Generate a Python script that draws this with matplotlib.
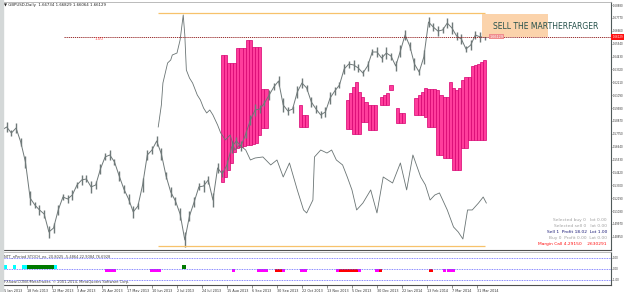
import numpy as np
import matplotlib
matplotlib.use("Agg")
import matplotlib.pyplot as plt
import matplotlib.transforms as mtransforms
from matplotlib.patches import Rectangle

# GBPUSD daily, one value every 3 bars (bar 0 = 25 Jan 2013)
closes = [1.5808, 1.5834, 1.5782, 1.5825, 1.5704, 1.5532, 1.5220, 1.5160, 1.5117, 1.5082,
          1.4927, 1.4961, 1.5117, 1.5229, 1.5212, 1.5246, 1.5333, 1.5376, 1.5385, 1.5316,
          1.5333, 1.5471, 1.5575, 1.5592, 1.5532, 1.5411, 1.5298, 1.5212, 1.5100, 1.5151,
          1.5333, 1.5592, 1.5635, 1.5713, 1.5601, 1.5411, 1.5272, 1.5195, 1.5082, 1.4858,
          1.5065, 1.5186, 1.5316, 1.5324, 1.5376, 1.5203, 1.5480, 1.5428, 1.5506, 1.5661,
          1.5713, 1.5670, 1.5773, 1.5894, 1.5981, 1.5989, 1.6041, 1.6110, 1.6180, 1.6231,
          1.6024, 1.5972, 1.5989, 1.6136, 1.6214, 1.6171, 1.6050, 1.5989, 1.5938, 1.5964,
          1.6084, 1.6145, 1.6197, 1.6335, 1.6378, 1.6370, 1.6344, 1.6300, 1.6361, 1.6482,
          1.6482, 1.6430, 1.6473, 1.6447, 1.6361, 1.6491, 1.6629, 1.6534, 1.6378, 1.6309,
          1.6439, 1.6741, 1.6698, 1.6663, 1.6672, 1.6732, 1.6689, 1.6620, 1.6594, 1.6508,
          1.6542, 1.6629, 1.6612, 1.6613]
bar_span = [0.006, 0.008, 0.005, 0.009, 0.007, 0.010, 0.012, 0.006, 0.008, 0.007,
            0.011, 0.009, 0.008, 0.006, 0.007, 0.009, 0.005, 0.008, 0.006, 0.010,
            0.007, 0.009, 0.006, 0.008, 0.005, 0.009, 0.007, 0.008, 0.010, 0.006,
            0.012, 0.009, 0.007, 0.008, 0.010, 0.006, 0.009, 0.007, 0.011, 0.013,
            0.009, 0.008, 0.006, 0.010, 0.007, 0.012, 0.009, 0.006, 0.008, 0.010,
            0.007, 0.009, 0.006, 0.008, 0.011, 0.007, 0.005, 0.009, 0.006, 0.008,
            0.012, 0.007, 0.006, 0.010, 0.008, 0.005, 0.009, 0.007, 0.006, 0.008,
            0.010, 0.007, 0.005, 0.009, 0.006, 0.008, 0.007, 0.005, 0.009, 0.006,
            0.008, 0.007, 0.010, 0.006, 0.009, 0.011, 0.008, 0.007, 0.010, 0.006,
            0.012, 0.008, 0.007, 0.009, 0.006, 0.008, 0.010, 0.007, 0.009, 0.006,
            0.008, 0.007, 0.009, 0.006]
close_idx = np.arange(0, 310, 3)

# overlay line
overlay_idx = [100, 102, 103, 106, 108, 109, 112, 114, 116, 117,
               118, 120, 122, 125, 127, 129, 131, 133, 135, 138,
               140, 143, 146, 149, 152, 156, 159, 162, 167, 172,
               176, 180, 184, 189, 193, 195, 199, 200, 204, 208,
               211, 214, 218, 221, 224, 227, 231, 236, 240, 244,
               247, 250, 255, 259, 263, 268, 271, 274, 277, 280,
               285, 289, 292, 295, 298, 301, 305, 308, 310]
overlay_px = [1.5834, 1.6024, 1.6214, 1.6387, 1.6413, 1.6456, 1.6473, 1.6586, 1.6802, 1.6629,
              1.6326, 1.6257, 1.6214, 1.6110, 1.6067, 1.5998, 1.5955, 1.5981, 1.5938, 1.5851,
              1.5782, 1.5722, 1.5765, 1.5635, 1.5678, 1.5635, 1.5549, 1.5566, 1.5575, 1.5506,
              1.5549, 1.5402, 1.5523, 1.5290, 1.5117, 1.5091, 1.5203, 1.5575, 1.5635, 1.5609,
              1.5635, 1.5549, 1.5506, 1.5402, 1.5290, 1.5117, 1.5177, 1.5290, 1.5091, 1.5402,
              1.5376, 1.5350, 1.5523, 1.5290, 1.5592, 1.5402, 1.5333, 1.5203, 1.5246, 1.5264,
              1.5117, 1.4970, 1.4927, 1.4866, 1.5117, 1.5117, 1.5177, 1.5229, 1.5177]

# pink histogram in main window
pink_idx = [141, 143, 145, 147, 149, 151, 153, 155, 157, 159, 161, 163, 165, 167, 169,
            191, 193, 195,
            221, 223, 225, 227, 229, 231, 233, 235, 237, 239,
            243, 245, 247, 249,
            253, 255, 257,
            265, 267, 269, 271, 273, 275, 277, 279, 281, 283, 285, 287,
            289, 291, 293, 295, 297, 299, 301, 303, 305, 307, 309]
pink_top = [1.6456, 1.6456, 1.6387, 1.6387, 1.6387, 1.6516, 1.6516, 1.6516, 1.6586, 1.6586,
            1.6525, 1.6525, 1.6525, 1.6162, 1.6162,
            1.6024, 1.5938, 1.5938,
            1.6067, 1.6128, 1.6180, 1.6223, 1.6136, 1.6093, 1.6050, 1.6024, 1.6024, 1.6024,
            1.6093, 1.6110, 1.6128, 1.6197,
            1.5998, 1.5955, 1.5955,
            1.6084, 1.6110, 1.6136, 1.6171, 1.6162, 1.6162, 1.6162, 1.6154, 1.6110, 1.6093,
            1.6093, 1.6223, 1.6171, 1.6154, 1.6171, 1.6240, 1.6266, 1.6266, 1.6361, 1.6370,
            1.6378, 1.6396, 1.6413]
pink_bot = [1.5359, 1.5402, 1.5462, 1.5523, 1.5618, 1.5652, 1.5661, 1.5670, 1.5678, 1.5678,
            1.5687, 1.5696, 1.5765, 1.5825, 1.5825,
            1.5834, 1.5834, 1.5834,
            1.5817, 1.5817, 1.5773, 1.5773, 1.5773, 1.5877, 1.5877, 1.5808, 1.5808, 1.5808,
            1.6024, 1.6024, 1.6024, 1.6154,
            1.5868, 1.5868, 1.5868,
            1.5938, 1.5938, 1.5938, 1.5920, 1.5834, 1.5834, 1.5834, 1.5592, 1.5592, 1.5566,
            1.5566, 1.5566, 1.5462, 1.5462, 1.5462, 1.5652, 1.5652, 1.5722, 1.5722, 1.5722,
            1.5722, 1.5722, 1.5722]

current = 1.66129
top_level = 1.6819
bottom_level = 1.4806
price_ticks = [1.68880, 1.67770, 1.66660, 1.65540, 1.64430, 1.63320, 1.62210, 1.61090,
               1.59980, 1.58870, 1.57750, 1.56640, 1.55530, 1.54420, 1.53300, 1.52190,
               1.51080, 1.49970, 1.48850]

date_idx = [0, 16, 32, 48, 64, 80, 96, 112, 128, 144, 160, 176, 192, 208, 224, 240, 256, 272, 288, 304]
date_labels = ["25 Jan 2013", "18 Feb 2013", "12 Mar 2013", "3 Apr 2013", "25 Apr 2013",
               "17 May 2013", "10 Jun 2013", "2 Jul 2013", "24 Jul 2013", "15 Aug 2013",
               "6 Sep 2013", "30 Sep 2013", "22 Oct 2013", "13 Nov 2013", "5 Dec 2013",
               "30 Dec 2013", "22 Jan 2014", "13 Feb 2014", "7 Mar 2014", "31 Mar 2014"]

# stoch subwindow blocks
block_start = [0, 7, 13, 16, 33, 66, 95, 115, 147, 163, 175, 179, 191, 214, 216, 228, 239, 241, 273, 282, 285]
block_end = [3, 9, 16, 33, 35, 73, 102, 118, 149, 170, 179, 181, 195, 216, 228, 230, 241, 243, 276, 284, 290]
block_color = ["#00ffff", "#00ffff", "#00ffff", "#007a00", "#00ffff", "#ff00ff", "#ff00ff", "#007a00",
               "#ff00ff", "#ff00ff", "#ff0000", "#ff00ff", "#ff00ff", "#ff00ff", "#ff0000", "#ff00ff",
               "#ff00ff", "#ff0000", "#ff0000", "#ff00ff", "#ff00ff"]
block_side = [1, 1, 1, 1, 1, -1, -1, 1, -1, -1, -1, -1, -1, -1, -1, -1, -1, -1, -1, -1, -1]

info_lines = ["Selected buy 0   lot 0.00", "Selected sell 0   lot 0.00",
              "Sell 1  Profit 18.02  Lot 1.00", "Buy 0  Profit 0.00  Lot 0.00",
              "Margin Call 4.29150    2630291"]
info_colors = ["#a0a0a0", "#a0a0a0", "#1c1c78", "#a0a0a0", "#ff1010"]

W, H = 625, 292
fig = plt.figure(figsize=(6.25, 2.92), dpi=100)


def box(x0, y0, x1, y1):
    return [x0 / W, 1 - y1 / H, (x1 - x0) / W, (y1 - y0) / H]


ax = fig.add_axes(box(0, 2, 611, 250))
ax2 = fig.add_axes(box(0, 252, 611, 285))
for a in (ax, ax2):
    a.set_xlim(-1.28, 389.8)
    a.spines["left"].set_visible(False)
    a.spines["top"].set_color("#b0b0b0")
    a.spines["top"].set_linewidth(0.6)
    a.spines["right"].set_color("#505a5a")
    a.spines["right"].set_linewidth(0.8)
    a.spines["bottom"].set_color("#505050")
    a.spines["bottom"].set_linewidth(0.8)
    a.yaxis.tick_right()

ax.set_ylim(1.4771, 1.6914)

gray = "#6f7979"
c = np.array(closes)
s = np.array(bar_span)
ax.vlines(close_idx, c - s / 2, c + s / 2, color=gray, lw=1.0)
ax.plot(close_idx, c, color=gray, lw=0.7)
ax.plot(overlay_idx, overlay_px, color="#6a7474", lw=0.6)

pt = np.array(pink_top)
pb = np.array(pink_bot)
ax.bar(pink_idx, pt - pb, bottom=pb, width=2.0, color="#ff3d9c", edgecolor="#d6006f",
       linewidth=0.5, zorder=1)

ax.hlines(top_level, 100, 309, color="#f7c26b", lw=0.9)
ax.hlines(bottom_level, 100, 309, color="#f7c26b", lw=0.9)
ax.hlines(current, 40, 389.8, color="#8b1010", lw=0.6, linestyles=(0, (1.5, 1.0)))
ax.text(59, 1.6590, "1.00", fontsize=3, color="#ff5050", va="center")

ax.add_patch(Rectangle((307.2, 1.6612), 42.2, 0.0198, facecolor="#fbd3ab", edgecolor="none", zorder=4))
ax.text(314, 1.6700, "SELL THE MARTHERFARGER", fontsize=5.5, color="#24504a", va="center", zorder=5)
ax.text(312, current, "1.66129", fontsize=2.4, color="white", va="center", zorder=6,
        bbox=dict(boxstyle="square,pad=0.15", fc="#f08c8c", ec="none"))

ax.set_xticks([])
ax.set_yticks(price_ticks)
ax.set_yticklabels(["%.5f" % v for v in price_ticks])
ax.tick_params(axis="y", labelsize=1.9, length=1.0, width=0.4, pad=0.5, colors="#333333")
trans = mtransforms.blended_transform_factory(ax.transAxes, ax.transData)
ax.text(1.002, current, "1.66129", transform=trans, fontsize=1.9, color="white", va="center", ha="left",
        clip_on=False, zorder=10, bbox=dict(boxstyle="square,pad=0.3", fc="#ff1010", ec="none"))

# subwindow
ax2.set_ylim(-1.5, 1.5)
for lev in (1, 0, -1):
    ax2.axhline(lev, color="#6060ff", lw=0.6, ls=(0, (1, 1)))
for st, en, col, side in zip(block_start, block_end, block_color, block_side):
    ax2.bar(st, 0.36 * side, width=en - st, bottom=0, align="edge", color=col, linewidth=0)
ax2.set_yticks([1, 0, -1])
ax2.set_yticklabels(["1.00", "0.00", "-1.00"])
ax2.tick_params(axis="y", labelsize=1.9, length=1.0, width=0.4, pad=0.5, colors="#333333")
ax2.set_xticks(date_idx)
ax2.set_xticklabels(date_labels, ha="left")
ax2.tick_params(axis="x", labelsize=2.4, length=2, width=0.4, pad=1, colors="#333333")

fig.add_artist(Rectangle((0, 0), 3 / W, 1, transform=fig.transFigure, color="#d4d8d8"))
fig.text(4 / W, 1 - 5 / H, "\u25bc GBPUSD,Daily  1.66734 1.66829 1.66064 1.66129", fontsize=2.8,
         va="center", color="#222222")
fig.text(4 / W, 1 - 256 / H, "NTT_nPeriod STOCH_ex. 20.8025 -5.4864 22.9084 76.6928", fontsize=2.6,
         va="center", color="#444444")
fig.text(4 / W, 1 - 282 / H, "FXSaw(CONV)MetaTrader, \u00a9 2001-2014, MetaQuotes Software Corp.",
         fontsize=2.6, va="center", color="#444444")
for k, (txt, col) in enumerate(zip(info_lines, info_colors)):
    fig.text(607 / W, 1 - (220 + 6 * k) / H, txt, fontsize=3.2, ha="right", va="center", color=col)

fig.savefig("out.png", dpi=100)
